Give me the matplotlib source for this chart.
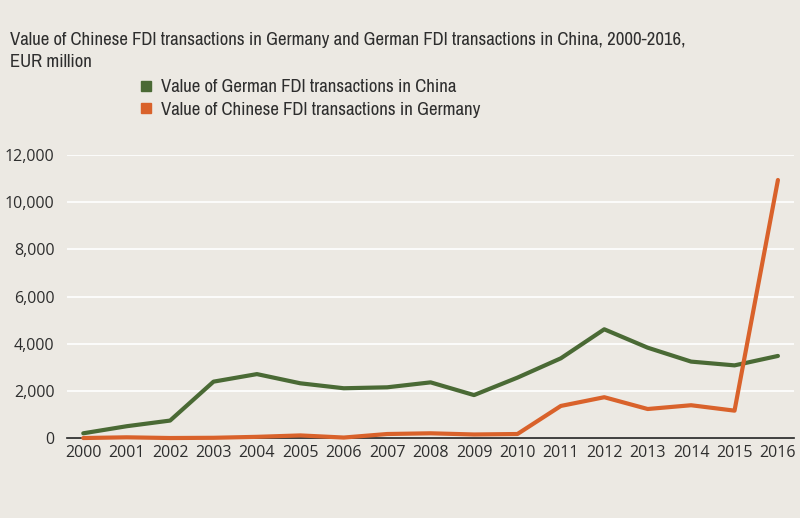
import matplotlib
matplotlib.use("Agg")
import matplotlib.pyplot as plt
from matplotlib.lines import Line2D
from matplotlib import font_manager

years = [str(y) for y in range(2000, 2017)]
german_in_china = [200, 500, 740, 2390, 2710, 2320, 2110, 2150, 2360, 1820, 2560, 3380, 4610, 3830, 3240, 3080, 3480]
chinese_in_germany = [0, 30, 0, 10, 50, 110, 20, 170, 200, 150, 170, 1360, 1730, 1230, 1390, 1160, 10940]
yticks = [0, 2000, 4000, 6000, 8000, 10000, 12000]

cond = [f for f in font_manager.fontManager.ttflist
        if ("Narrow" in f.fname or "Condensed" in f.fname)
        and f.weight in (400, "normal", "regular") and f.style == "normal"]
cond.sort(key=lambda f: (0 if "Narrow" in f.fname else 1, f.fname))
if cond:
    title_fp = font_manager.FontProperties(fname=cond[0].fname, size=13.5)
else:
    title_fp = font_manager.FontProperties(family="DejaVu Sans", size=11)

bg = "#ECE9E3"
green = "#4A6A35"
orange = "#D9622B"
txt = "#2E2E2E"

fig = plt.figure(figsize=(8, 5.18), dpi=100, facecolor=bg)
ax = fig.add_axes([0.084, 0.1544, 0.9085, 0.5464], facecolor=bg)

x = list(range(len(years)))
ax.plot(x, german_in_china, color=green, lw=3.0, clip_on=False, solid_capstyle="round", zorder=3)
ax.plot(x, chinese_in_germany, color=orange, lw=3.0, clip_on=False, solid_capstyle="round", zorder=3)

ax.set_xlim(-0.37, 16.37)
ax.set_ylim(0, 12000)
ax.set_yticks(yticks)
ax.set_yticklabels([f"{v:,}" for v in yticks], fontsize=11.5, color=txt, family="Open Sans")
ax.set_xticks(x)
ax.set_xticklabels(years, fontsize=11.5, color=txt, family="Open Sans")
ax.tick_params(length=0, pad=5)
ax.tick_params(axis="y", pad=9)
ax.grid(axis="y", color="white", lw=1.2)
ax.set_axisbelow(True)
for s in ["top", "right", "left"]:
    ax.spines[s].set_visible(False)
ax.spines["bottom"].set_color("#222222")
ax.spines["bottom"].set_linewidth(1.2)
ax.spines["bottom"].set_zorder(2)

fig.text(0.0125, 0.923, "Value of Chinese FDI transactions in Germany and German FDI transactions in China, 2000-2016,",
         fontproperties=title_fp, color=txt, va="center")
fig.text(0.0125, 0.880, "EUR million", fontproperties=title_fp, color=txt, va="center")

handles = [Line2D([], [], ls="none", marker="s", ms=7.5, color=green),
           Line2D([], [], ls="none", marker="s", ms=7.5, color=orange)]
leg = fig.legend(handles, ["Value of German FDI transactions in China", "Value of Chinese FDI transactions in Germany"],
                 loc="center left", bbox_to_anchor=(0.174, 0.810), frameon=False,
                 prop=title_fp, handlelength=0.7,
                 handletextpad=0.45, labelspacing=0.35, borderpad=0, borderaxespad=0)
for t in leg.get_texts():
    t.set_color(txt)

fig.savefig("out.png", dpi=100, facecolor=bg)
